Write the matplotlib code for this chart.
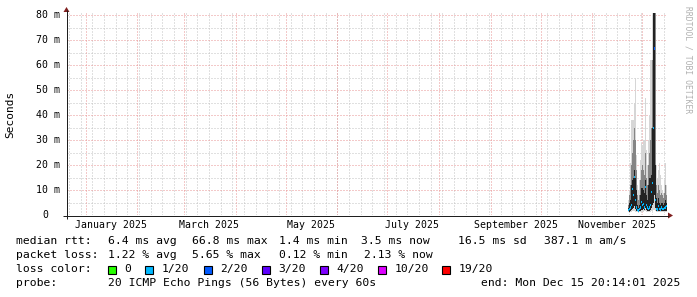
import numpy as np
import pandas as pd
import matplotlib
matplotlib.use("Agg")
import matplotlib.pyplot as plt
import matplotlib.dates as mdates
import matplotlib.transforms as mtransforms
from matplotlib.lines import Line2D
from matplotlib.patches import Rectangle, Polygon

# ---------------- data ----------------
graph_end = "2025-12-15 20:14:01"
graph_days = 360
sample_step_hours = 14.4

rtt_min = [1.2, 1.0, 1.1, 1.3, 1.5, 1.6, 1.5, 1.4, 1.2, 1.1, 1.0, 1.1, 1.2, 1.3,
           1.2, 1.4, 1.5, 1.6, 1.3, 1.2, 1.1, 1.2, 1.4, 1.6, 1.8, 2.0, 2.0, 1.6,
           1.3, 1.2, 1.3, 1.2, 1.1, 1.2, 1.3, 1.1, 1.2, 1.3, 1.2]
rtt_q1 = [1.5, 1.4, 1.6, 2.0, 2.5, 3.0, 3.5, 2.5, 1.8, 1.5, 1.4, 1.5, 1.8, 2.2,
          2.0, 2.4, 2.0, 2.8, 2.2, 1.8, 1.6, 1.8, 2.2, 3.0, 4.0, 5.0, 8.0, 3.0,
          1.8, 1.6, 1.8, 1.6, 1.5, 1.6, 1.8, 1.5, 1.6, 1.8, 1.8]
rtt_median = [2.0, 2.5, 3.0, 4.0, 10.4, 8.0, 15.3, 6.0, 3.0, 2.0, 1.8, 2.4, 3.0, 5.3,
              4.0, 4.5, 3.0, 11.3, 4.0, 3.0, 2.5, 3.0, 4.0, 9.3, 12.7, 35.0, 66.8, 6.0,
              2.5, 2.2, 3.5, 2.5, 2.2, 3.0, 2.5, 2.3, 2.8, 3.0, 3.5]
rtt_q3 = [3.0, 5.0, 6.0, 12.0, 14.0, 15.0, 18.0, 15.0, 10.0, 4.0, 3.0, 4.0, 8.0, 11.0,
          11.0, 10.0, 9.0, 14.0, 8.0, 6.0, 12.0, 15.0, 15.0, 16.0, 35.0, 95.0, 90.0, 20.0,
          7.0, 5.0, 7.0, 5.0, 4.0, 5.0, 5.0, 4.0, 5.0, 6.0, 5.0]
rtt_p90 = [4.0, 8.0, 12.0, 20.0, 25.0, 30.0, 35.0, 30.0, 18.0, 8.0, 6.0, 8.0, 14.0, 18.0,
           20.0, 18.0, 16.0, 25.0, 15.0, 12.0, 20.0, 25.0, 30.0, 35.0, 62.0, 100.0, 100.0, 95.0,
           12.0, 9.0, 12.0, 10.0, 8.0, 9.0, 8.0, 7.0, 9.0, 12.0, 8.0]
rtt_max = [6.0, 10.0, 21.0, 38.0, 38.0, 38.0, 45.0, 55.0, 24.0, 12.0, 10.0, 14.0, 22.0, 29.0,
           28.0, 30.0, 30.0, 47.0, 26.0, 20.0, 30.0, 40.0, 62.0, 62.0, 80.0, 110.0, 110.0, 110.0,
           20.0, 15.0, 18.0, 21.0, 16.0, 12.0, 10.0, 9.0, 14.0, 21.0, 12.0]
loss_count = [1, 1, 1, 1, 1, 1, 1, 1, 1, 1, 1, 1, 1, 1,
              1, 1, 1, 1, 1, 1, 1, 1, 1, 1, 1, 1, 2, 1,
              1, 1, 1, 1, 1, 1, 1, 1, 1, 1, 1]

loss_levels = [0, 1, 2, 3, 4, 10, 19]
loss_labels = ["0", "1/20", "2/20", "3/20", "4/20", "10/20", "19/20"]
loss_colors = ["#26ff00", "#00b8ff", "#0059ff", "#5e00ff", "#7e00ff", "#dd00ff", "#ff0000"]

y_ticks = [0, 10, 20, 30, 40, 50, 60, 70, 80]
y_tick_labels = ["0", "10 m", "20 m", "30 m", "40 m", "50 m", "60 m", "70 m", "80 m"]
y_max = 81
x_label_months = ["2025-01-01", "2025-03-01", "2025-05-01", "2025-07-01", "2025-09-01", "2025-11-01"]

median_stats = ["6.4 ms avg", "66.8 ms max", "1.4 ms min", "3.5 ms now", "16.5 ms sd", "387.1 m am/s"]
loss_stats = ["1.22 % avg", "5.65 % max", "0.12 % min", "2.13 % now"]
probe_text = "20 ICMP Echo Pings (56 Bytes) every 60s"
end_text = "end: Mon Dec 15 20:14:01 2025"

# ---------------- layout ----------------
W, H = 697, 297
MONO = "DejaVu Sans Mono"
plt.rcParams["font.family"] = [MONO]
plt.rcParams["lines.solid_capstyle"] = "butt"
plt.rcParams["lines.dash_capstyle"] = "butt"


def fx(x):
    return x / W


def fy(y):
    return 1 - y / H


fig = plt.figure(figsize=(W / 100, H / 100), dpi=100)
fig.patch.set_facecolor("white")
AX_L, AX_R, AX_T, AX_B = 67, 667, 13, 215
ax = fig.add_axes([fx(AX_L), fy(AX_B), (AX_R - AX_L) / W, (AX_B - AX_T) / H])
ax.set_facecolor("white")
for s in ax.spines.values():
    s.set_visible(False)
ax.set_xticks([])
ax.set_yticks([])

end_num = mdates.date2num(pd.Timestamp(graph_end))
start_num = end_num - graph_days
ax.set_xlim(start_num, end_num)
ax.set_ylim(0, y_max)

# smoke + median
n = len(rtt_median)
step = sample_step_hours / 24.0
edges = end_num - step * np.arange(n, -1, -1)
centers = (edges[:-1] + edges[1:]) / 2

ax.stairs(rtt_max, edges, baseline=rtt_min, fill=True, color="#d6d6d6", lw=0, zorder=12)
ax.stairs(rtt_p90, edges, baseline=rtt_q1, fill=True, color="#858585", lw=0, zorder=13)
ax.stairs(rtt_q3, edges, baseline=rtt_q1, fill=True, color="#222222", lw=0, zorder=14)

sw = y_max / (AX_B - AX_T) * 1.1
med = np.array(rtt_median)
loss = np.array(loss_count)
for i, lvl in enumerate(loss_levels):
    hi = loss_levels[i + 1] if i + 1 < len(loss_levels) else 21
    m = (loss >= lvl) & (loss < hi)
    if m.any():
        ax.bar(centers[m], 2 * sw, bottom=med[m] - sw, width=step, color=loss_colors[i],
               lw=0, zorder=16)

# grid
start_ts = pd.Timestamp(mdates.num2date(start_num)).tz_localize(None)
end_ts = pd.Timestamp(graph_end)
weeks = pd.date_range(start_ts.normalize(), end_ts, freq="W-SUN")
months = pd.date_range(start_ts.normalize(), end_ts, freq="MS")
dot = (0, (1, 2))
GLW = 0.72
minor_col = "#c2c2c2"
major_col = "#e99494"
for wk in weeks:
    ax.axvline(mdates.date2num(wk), color=minor_col, lw=GLW, ls=dot, zorder=7)
for v in range(5, y_max, 10):
    ax.axhline(v, color=minor_col, lw=GLW, ls=dot, zorder=7)
for mo in months:
    ax.axvline(mdates.date2num(mo), color=major_col, lw=GLW, ls=dot, zorder=8)
for v in y_ticks[1:]:
    ax.axhline(v, color=major_col, lw=GLW, ls=dot, zorder=8)

# axis lines and arrows
fig.add_artist(Line2D([fx(63), fx(669)], [fy(215.5), fy(215.5)], color="#1f1f1f", lw=0.72))
fig.add_artist(Line2D([fx(66.5), fx(66.5)], [fy(219), fy(10)], color="#1f1f1f", lw=0.72))
arrow_col = "#801f1f"
fig.add_artist(Polygon([(fx(668), fy(212.5)), (fx(673), fy(215.5)), (fx(668), fy(218.5))],
                       closed=True, color=arrow_col, lw=0))
fig.add_artist(Polygon([(fx(63.5), fy(12)), (fx(66.5), fy(7)), (fx(69.5), fy(12))],
                       closed=True, color=arrow_col, lw=0))

# y tick labels
ytr = mtransforms.blended_transform_factory(fig.transFigure, ax.transData)
for v, lab in zip(y_ticks, y_tick_labels):
    xr = 60 if lab != "0" else 48
    ax.text(fx(xr), v, lab, transform=ytr, ha="right", va="center", fontsize=7.1,
            family=MONO, color="#000000", clip_on=False)

# x tick labels (rrdtool centres month label half a month after the start)
xtr = mtransforms.blended_transform_factory(ax.transData, fig.transFigure)
for mstr in x_label_months:
    ts = pd.Timestamp(mstr)
    pos = mdates.date2num(ts + pd.Timedelta(days=15))
    ax.text(pos, fy(224.5), ts.strftime("%B %Y"), transform=xtr, ha="center", va="center",
            fontsize=7.1, family=MONO, color="#000000", clip_on=False)

# y label & watermark
fig.text(fx(10.5), fy(114), "Seconds", rotation=90, ha="center", va="center",
         fontsize=8, family=MONO, color="#000000")
fig.text(fx(688), fy(60), "RRDTOOL / TOBI OETIKER", rotation=270, ha="center", va="center",
         fontsize=5.8, family=MONO, color="#b0b0b0")

# legend rows
LF = 8.2
fig.text(fx(16), fy(241), "median rtt:", fontsize=LF, family=MONO, va="center")
for s, xp in zip(median_stats, [107.6, 192.4, 279, 361, 457.8, 544.4]):
    fig.text(fx(xp), fy(241), s, fontsize=LF, family=MONO, va="center")
fig.text(fx(16), fy(255), "packet loss:", fontsize=LF, family=MONO, va="center")
for s, xp in zip(loss_stats, [107.6, 192.4, 279, 364.4]):
    fig.text(fx(xp), fy(255), s, fontsize=LF, family=MONO, va="center")
fig.text(fx(16), fy(269), "loss color:", fontsize=LF, family=MONO, va="center")
for lab, col, xp in zip(loss_labels, loss_colors, [108, 145.3, 203.6, 262.2, 320, 377.8, 442.2]):
    fig.add_artist(Rectangle((fx(xp), fy(273.5)), 8 / W, 8 / H, facecolor=col,
                             edgecolor="#000000", lw=0.8))
    fig.text(fx(xp + 16.4), fy(269), lab, fontsize=LF, family=MONO, va="center")
fig.text(fx(16), fy(283), "probe:", fontsize=LF, family=MONO, va="center")
fig.text(fx(107.6), fy(283), probe_text, fontsize=LF, family=MONO, va="center")
fig.text(fx(680), fy(283), end_text, fontsize=LF, family=MONO, va="center", ha="right")

fig.savefig("out.png", dpi=100, facecolor="white")
